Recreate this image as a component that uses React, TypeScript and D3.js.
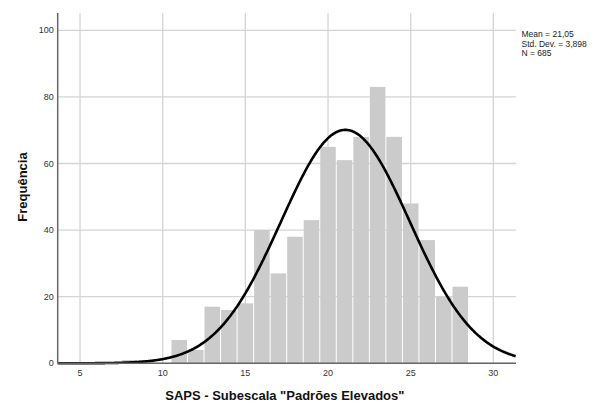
import React from "react";
import * as d3 from "d3";

const binCenters = [8, 9, 10, 11, 12, 13, 14, 15, 16, 17, 18, 19, 20, 21, 22, 23, 24, 25, 26, 27, 28];
const counts = [1, 1, 0, 7, 4, 17, 16, 18, 40, 27, 38, 43, 65, 61, 68, 83, 68, 48, 37, 20, 23];
const xTicks = [5, 10, 15, 20, 25, 30];
const yTicks = [0, 20, 40, 60, 80, 100];
const mean = 21.05;
const sd = 3.898;
const n = 685;
const statsLines = ["Mean = 21,05", "Std. Dev. = 3,898", "N = 685"];
const xLabel = 'SAPS - Subescala "Padrões Elevados"';
const yLabel = "Frequência";

const W = 598;
const H = 403;
const L = 57.7;
const R = 516;
const T = 13;
const B = 363.3;

export default function App() {
  const x = d3.scaleLinear().domain([3.65, 31.37]).range([L, R]);
  const y = d3.scaleLinear().domain([0, 100]).range([B, 30.3]);
  const font = "'Liberation Sans', Arial, sans-serif";

  const curvePts: [number, number][] = d3.range(3.65, 31.38, 0.05).map((v) => [
    v,
    n * 1 * (1 / (sd * Math.sqrt(2 * Math.PI))) * Math.exp(-((v - mean) ** 2) / (2 * sd * sd)),
  ]);
  const line = d3
    .line<[number, number]>()
    .x((d) => x(d[0]))
    .y((d) => y(d[1]))
    .curve(d3.curveBasis);

  return (
    <svg
      width={W}
      height={H}
      style={{ position: "fixed", left: 0, top: 0, background: "#fff" }}
      fontFamily={font}
    >
      <rect x={0} y={0} width={W} height={H} fill="#fff" />
      {/* grid */}
      {yTicks.map((t) => (
        <line key={"gy" + t} x1={L} x2={R} y1={y(t)} y2={y(t)} stroke="#d4d4d4" strokeWidth={1.3} />
      ))}
      {xTicks.map((t) => (
        <line key={"gx" + t} x1={x(t)} x2={x(t)} y1={T} y2={B} stroke="#d4d4d4" strokeWidth={1.3} />
      ))}
      {/* bars */}
      {binCenters.map((c, i) =>
        counts[i] > 0 ? (
          <rect
            key={"b" + c}
            x={x(c - 0.5) + 0.5}
            width={x(c + 0.5) - x(c - 0.5) - 1}
            y={y(counts[i])}
            height={y(0) - y(counts[i])}
            fill="#cbcbcb"
          />
        ) : null
      )}
      {/* curve */}
      <path d={line(curvePts) || ""} fill="none" stroke="#000" strokeWidth={2.6} />
      {/* axes */}
      <line x1={L} x2={L} y1={T} y2={B} stroke="#666" strokeWidth={1.5} />
      <line x1={L} x2={R} y1={B} y2={B} stroke="#666" strokeWidth={1.5} />
      {/* tick labels */}
      {yTicks.map((t) => (
        <text key={"ly" + t} x={L - 4} y={y(t)} dy="0.35em" textAnchor="end" fontSize={9} fill="#333">
          {t}
        </text>
      ))}
      {xTicks.map((t) => (
        <text key={"lx" + t} x={x(t)} y={B + 10} dy="0.35em" textAnchor="middle" fontSize={9} fill="#333">
          {t}
        </text>
      ))}
      {/* axis titles */}
      <text
        x={(L + R) / 2 - 2}
        y={395}
        dy="0.35em"
        textAnchor="middle"
        fontSize={13}
        fontWeight="bold"
        fill="#111"
      >
        {xLabel}
      </text>
      <text
        transform={`translate(22,187) rotate(-90)`}
        dy="0.35em"
        textAnchor="middle"
        fontSize={13}
        fontWeight="bold"
        fill="#111"
      >
        {yLabel}
      </text>
      {/* stats */}
      {statsLines.map((s, i) => (
        <text key={"s" + i} x={521.5} y={34.3 + i * 9.5} dy="0.35em" fontSize={8.5} fill="#222">
          {s}
        </text>
      ))}
    </svg>
  );
}
